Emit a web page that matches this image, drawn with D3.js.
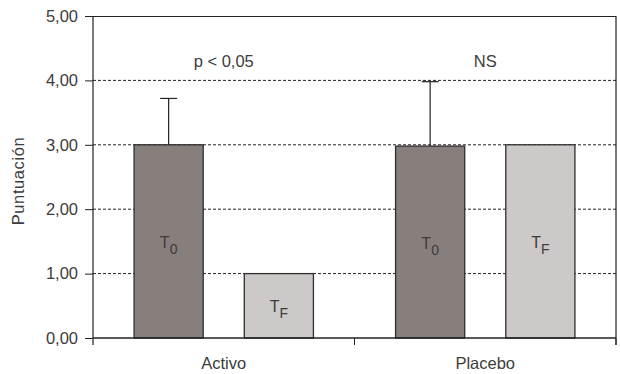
<!DOCTYPE html>
<html><head><meta charset="utf-8">
<script src="https://cdn.jsdelivr.net/npm/d3@7"></script>
<style>body{margin:0;background:#fff}svg{display:block}text{font-family:"Liberation Sans",Arial,sans-serif;fill:#3c3c3c}</style>
</head><body><svg id="c" width="620" height="374"></svg>
<script>
const groups = ["Activo", "Placebo"];
const times = ["T0", "TF"];
const timeSub = {T0: "0", TF: "F"};
const activoValues = [3.0, 1.0];
const placeboValues = [2.98, 3.0];
const activoErrors = [0.72, null];
const placeboErrors = [1.0, null];
const annotations = ["p < 0,05", "NS"];
const yTicks = [0, 1, 2, 3, 4, 5];
const yTitle = "Puntuación";

const data = [];
groups.forEach((g, gi) => {
  const vals = gi === 0 ? activoValues : placeboValues;
  const errs = gi === 0 ? activoErrors : placeboErrors;
  times.forEach((t, ti) => data.push({group: g, time: t, value: vals[ti], err: errs[ti]}));
});

const svg = d3.select("#c");
const m = {left: 93, right: 616, top: 16, bottom: 338};
const y = d3.scaleLinear().domain([0, 5]).range([m.bottom, m.top]);
const x0 = d3.scaleBand().domain(groups).range([m.left, m.right]);
const p = 0.3727;
const x1 = d3.scaleBand().domain(times).range([0, x0.bandwidth()]).paddingInner(p).paddingOuter(p);
const fill = {T0: "#877f7c", TF: "#cdc9c8"};
const FS = 16.5;

// gridlines
svg.append("g").selectAll("line").data(yTicks.filter(v => v > 0 && v < 5)).join("line")
  .attr("x1", m.left).attr("x2", m.right).attr("y1", d => y(d)).attr("y2", d => y(d))
  .attr("stroke", "#222").attr("stroke-width", 1).attr("stroke-dasharray", "3,2");

// bars
svg.append("g").selectAll("rect").data(data).join("rect")
  .attr("x", d => x0(d.group) + x1(d.time))
  .attr("y", d => y(d.value))
  .attr("width", x1.bandwidth())
  .attr("height", d => y(0) - y(d.value))
  .attr("fill", d => fill[d.time]).attr("stroke", "#2f2f2f").attr("stroke-width", 1.3);

// error bars
const eb = svg.append("g").attr("stroke", "#222").attr("stroke-width", 1.2);
data.filter(d => d.err != null).forEach(d => {
  const cx = x0(d.group) + x1(d.time) + x1.bandwidth() / 2;
  eb.append("line").attr("x1", cx).attr("x2", cx).attr("y1", y(d.value)).attr("y2", y(d.value + d.err));
  eb.append("line").attr("x1", cx - 8.5).attr("x2", cx + 8.5).attr("y1", y(d.value + d.err)).attr("y2", y(d.value + d.err));
});

// bar labels
data.forEach(d => {
  const cx = x0(d.group) + x1(d.time) + x1.bandwidth() / 2;
  const cy = (y(d.value) + y(0)) / 2;
  const t = svg.append("text").attr("x", cx).attr("y", cy + 6.5).attr("text-anchor", "middle").attr("font-size", 16);
  t.append("tspan").text("T");
  t.append("tspan").attr("font-size", 14).attr("dy", 6).text(timeSub[d.time]);
});

// frame
svg.append("line").attr("x1", m.left).attr("x2", m.right).attr("y1", m.top + 0.5).attr("y2", m.top + 0.5).attr("stroke", "#222");
svg.append("line").attr("x1", m.right).attr("x2", m.right).attr("y1", m.top).attr("y2", m.bottom + 7).attr("stroke", "#222").attr("stroke-width", 1.2);

// y axis
const ya = svg.append("g").attr("transform", `translate(${m.left},0)`)
  .call(d3.axisLeft(y).tickValues(yTicks).tickSize(8).tickPadding(7).tickFormat(d => d3.format(".2f")(d).replace(".", ",")));
ya.select(".domain").attr("stroke", "#222").attr("stroke-width", 1.2).attr("d", `M0,${m.top}V${m.bottom + 7}`);
ya.selectAll(".tick line").attr("stroke", "#222");
ya.selectAll("text").attr("font-size", FS).attr("fill", "#3c3c3c").attr("font-family", "Liberation Sans, Arial, sans-serif");

// x axis
const xa = svg.append("g").attr("transform", `translate(0,${m.bottom})`);
xa.append("line").attr("x1", m.left).attr("x2", m.right).attr("stroke", "#222").attr("stroke-width", 1.3);
xa.selectAll(".sep").data(groups).join("line").attr("class", "sep")
  .attr("x1", d => x0(d) + x0.bandwidth()).attr("x2", d => x0(d) + x0.bandwidth())
  .attr("y1", 0).attr("y2", 7).attr("stroke", "#222");
xa.selectAll("text").data(groups).join("text")
  .attr("x", d => x0(d) + x0.bandwidth() / 2).attr("y", 31).attr("text-anchor", "middle").attr("font-size", FS).text(d => d);

// annotations
svg.selectAll(".ann").data(groups).join("text").attr("class", "ann")
  .attr("x", d => x0(d) + x0.bandwidth() / 2).attr("y", 67).attr("text-anchor", "middle").attr("font-size", FS)
  .text((d, i) => annotations[i]);

// y title
svg.append("text").attr("transform", `translate(24,181) rotate(-90)`)
  .attr("text-anchor", "middle").attr("font-size", FS).attr("letter-spacing", 0.6).text(yTitle);
</script></body></html>
